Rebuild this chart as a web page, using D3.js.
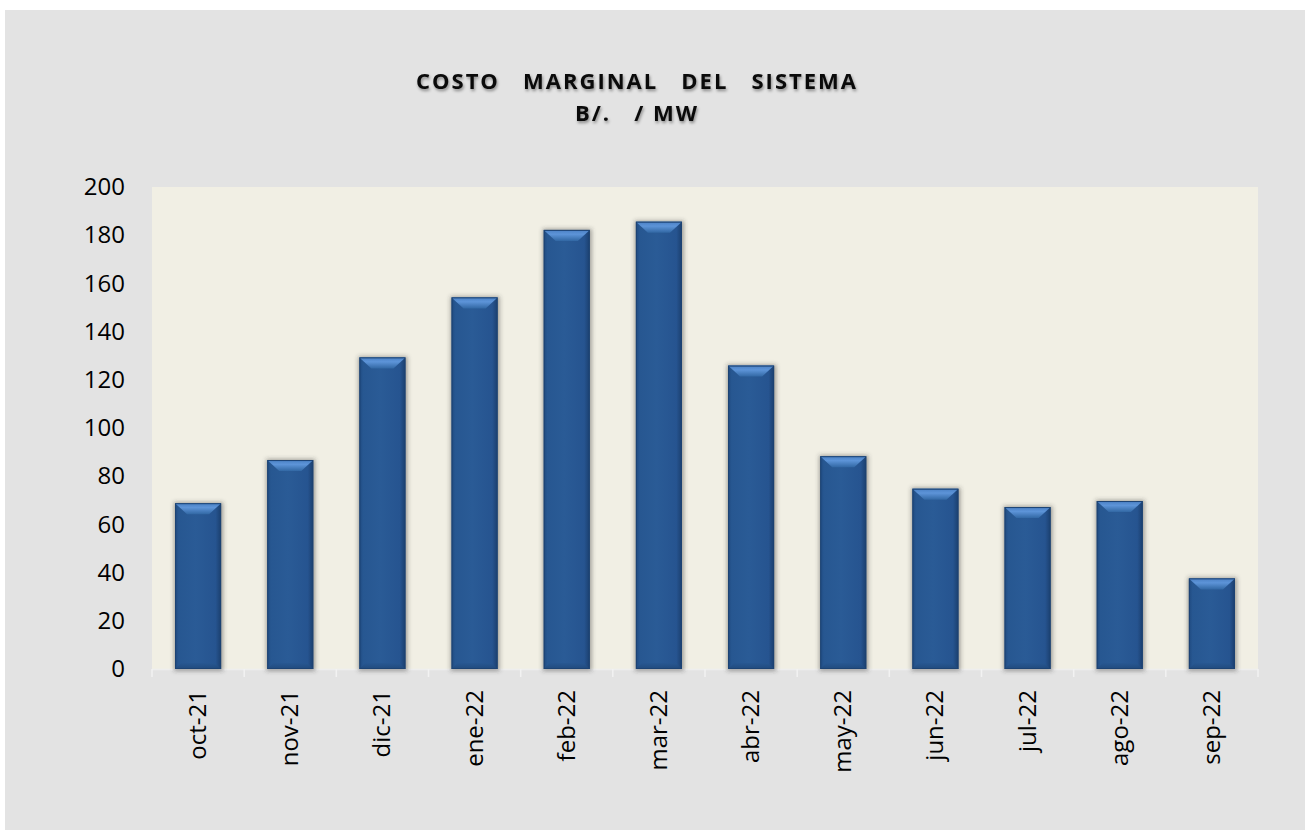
<!DOCTYPE html>
<html>
<head>
<meta charset="utf-8">
<script src="https://cdn.jsdelivr.net/npm/d3@7"></script>
<style>
  body { margin: 0; background: #ffffff; }
  svg { display: block; font-family: "Open Sans", "Liberation Sans", sans-serif; }
</style>
</head>
<body>
<div id="chart"></div>
<script>
// datos del gráfico
const meses = ["oct-21", "nov-21", "dic-21", "ene-22", "feb-22", "mar-22",
               "abr-22", "may-22", "jun-22", "jul-22", "ago-22", "sep-22"];
const costo = [68.8, 86.7, 129.3, 154.2, 182.2, 185.6, 125.9, 88.3, 74.8, 67.2, 69.7, 37.6];
const yTicks = [0, 20, 40, 60, 80, 100, 120, 140, 160, 180, 200];
const titulo = ["COSTO   MARGINAL   DEL   SISTEMA", "B/.   / MW"];

const width = 1310, height = 830;
const plot = { left: 152, top: 187, right: 1258, bottom: 669 };

const svg = d3.select('#chart').append('svg')
    .attr('width', width)
    .attr('height', height);

const defs = svg.append('defs');

// sombra de las barras
const sh = defs.append('filter').attr('id', 'sombra')
    .attr('x', '-30%').attr('y', '-10%').attr('width', '160%').attr('height', '120%');
sh.append('feGaussianBlur').attr('stdDeviation', 2.2);

// degradado horizontal del cuerpo
const gBody = defs.append('linearGradient').attr('id', 'cuerpo')
    .attr('x1', 0).attr('x2', 1).attr('y1', 0).attr('y2', 0);
gBody.append('stop').attr('offset', '0%').attr('stop-color', '#1f4a80');
gBody.append('stop').attr('offset', '8%').attr('stop-color', '#275791');
gBody.append('stop').attr('offset', '45%').attr('stop-color', '#2a5b96');
gBody.append('stop').attr('offset', '88%').attr('stop-color', '#265490');
gBody.append('stop').attr('offset', '100%').attr('stop-color', '#1b3f6e');

// degradado del bisel superior
const gTop = defs.append('linearGradient').attr('id', 'bisel')
    .attr('x1', 0).attr('x2', 0).attr('y1', 0).attr('y2', 1);
gTop.append('stop').attr('offset', '0%').attr('stop-color', '#4a80c4');
gTop.append('stop').attr('offset', '40%').attr('stop-color', '#5d94d8');
gTop.append('stop').attr('offset', '100%').attr('stop-color', '#3268a4');

// degradado del bisel inferior
const gBot = defs.append('linearGradient').attr('id', 'biselInf')
    .attr('x1', 0).attr('x2', 0).attr('y1', 0).attr('y2', 1);
gBot.append('stop').attr('offset', '0%').attr('stop-color', '#275791');
gBot.append('stop').attr('offset', '100%').attr('stop-color', '#1f4778');

// fondo gris
svg.append('rect')
    .attr('x', 5).attr('y', 10)
    .attr('width', 1300).attr('height', 820)
    .attr('fill', '#e3e3e3');

// área de trazado
svg.append('rect')
    .attr('x', plot.left).attr('y', plot.top)
    .attr('width', plot.right - plot.left).attr('height', plot.bottom - plot.top)
    .attr('fill', '#f1efe4');

// título
const t = svg.append('text')
    .attr('text-anchor', 'middle')
    .attr('font-weight', 700)
    .attr('font-size', 22)
    .attr('letter-spacing', 2)
    .style('white-space', 'pre')
    .attr('fill', '#0a0a0a');
titulo.forEach((linea, i) => {
    t.append('tspan')
        .attr('x', 637)
        .attr('y', 89 + i * 32)
        .text(linea);
});
t.style('filter', 'drop-shadow(1px 2px 1.5px rgba(0,0,0,0.4))');

// escalas
const x = d3.scaleBand()
    .domain(meses)
    .range([plot.left, plot.right])
    .paddingInner(0.5)
    .paddingOuter(0.25);

const y = d3.scaleLinear()
    .domain([0, 200])
    .range([plot.bottom, plot.top]);

// eje Y
const yAxis = svg.append('g')
    .attr('transform', `translate(${plot.left},0)`)
    .call(d3.axisLeft(y).tickValues(yTicks).tickSize(0).tickPadding(27));
yAxis.select('.domain').remove();
yAxis.selectAll('text')
    .attr('font-size', 24)
    .attr('font-family', '"Open Sans", sans-serif')
    .attr('fill', '#000');

// eje X: línea y marcas entre categorías
const step = x.step();
svg.append('line')
    .attr('x1', plot.left).attr('x2', plot.right)
    .attr('y1', plot.bottom + 0.5).attr('y2', plot.bottom + 0.5)
    .attr('stroke', '#eeeeee').attr('stroke-width', 1.5);

svg.append('g').selectAll('line')
    .data(d3.range(meses.length + 1))
    .join('line')
    .attr('x1', i => plot.left + i * step)
    .attr('x2', i => plot.left + i * step)
    .attr('y1', plot.bottom)
    .attr('y2', plot.bottom + 8)
    .attr('stroke', '#f2f2f2').attr('stroke-width', 1.5);

svg.append('g').selectAll('text')
    .data(meses)
    .join('text')
    .attr('transform', d => `translate(${x(d) + x.bandwidth() / 2 + 8},${plot.bottom + 21}) rotate(-90)`)
    .attr('text-anchor', 'end')
    .attr('font-size', 24)
    .attr('fill', '#000')
    .text(d => d);

// barras
const bw = x.bandwidth();
const bars = svg.append('g').selectAll('g')
    .data(meses.map((m, i) => ({ mes: m, valor: costo[i] })))
    .join('g');

bars.append('rect')
    .attr('x', d => x(d.mes) - 1)
    .attr('y', d => y(d.valor) - 1)
    .attr('width', bw + 3)
    .attr('height', d => plot.bottom - y(d.valor) + 3)
    .attr('fill', 'rgba(60,60,60,0.45)')
    .attr('filter', 'url(#sombra)');

bars.append('rect')
    .attr('x', d => x(d.mes))
    .attr('y', d => y(d.valor))
    .attr('width', bw)
    .attr('height', d => plot.bottom - y(d.valor))
    .attr('fill', 'url(#cuerpo)');

// bisel superior
const bev = 11, ins = 12;
bars.append('path')
    .attr('d', d => {
        const x0 = x(d.mes), x1 = x0 + bw, y0 = y(d.valor);
        return `M${x0},${y0}L${x1},${y0}L${x1 - ins},${y0 + bev}L${x0 + ins},${y0 + bev}Z`;
    })
    .attr('fill', 'url(#bisel)');

// bisel inferior
bars.append('path')
    .attr('d', d => {
        const x0 = x(d.mes), x1 = x0 + bw, yb = plot.bottom;
        return `M${x0},${yb}L${x1},${yb}L${x1 - 6},${yb - 6}L${x0 + 6},${yb - 6}Z`;
    })
    .attr('fill', 'url(#biselInf)')
    .attr('opacity', 0.8);

// contorno fino
bars.append('rect')
    .attr('x', d => x(d.mes) + 0.5)
    .attr('y', d => y(d.valor) + 0.5)
    .attr('width', bw - 1)
    .attr('height', d => plot.bottom - y(d.valor) - 1)
    .attr('fill', 'none')
    .attr('stroke', '#1d4373')
    .attr('stroke-width', 1);
</script>
</body>
</html>
